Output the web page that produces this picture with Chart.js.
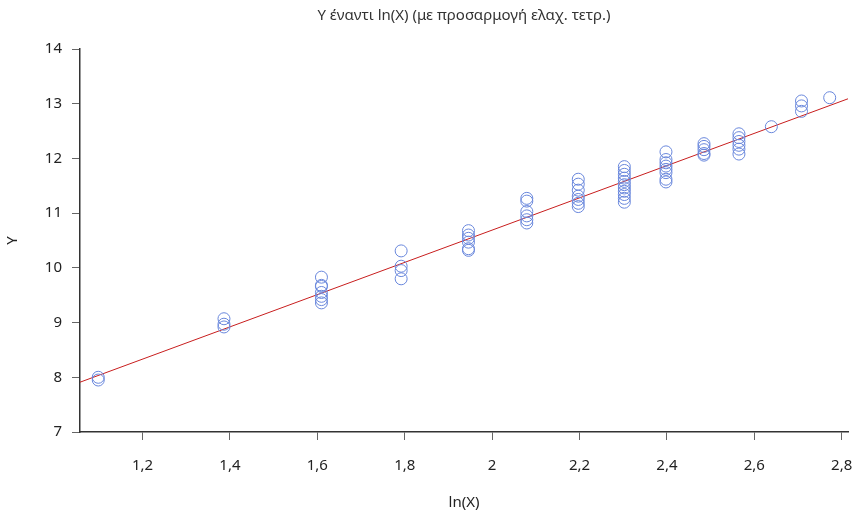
<!DOCTYPE html>
<html>
<head>
<meta charset="utf-8">
<script src="https://cdn.jsdelivr.net/npm/chart.js@4"></script>
<style>
  html, body { margin: 0; padding: 0; background: #fff; }
  #wrap { width: 858px; height: 514px; }
</style>
</head>
<body>
<div id="wrap"><canvas id="scatterChart" width="858" height="514"></canvas></div>
<script>
// ln(X) for each group of observations
const lnX = [1.0986, 1.3863, 1.6094, 1.7918, 1.9459, 2.0794, 2.1972, 2.3026, 2.3979, 2.4849, 2.5649, 2.6391, 2.7081, 2.7726];

// Y values read for each ln(X) group
const yGroups = [
    [8.00, 7.95],
    [9.07, 8.97, 8.92],
    [9.83, 9.68, 9.66, 9.55, 9.48, 9.42, 9.36],
    [10.31, 10.03, 9.95, 9.80],
    [10.68, 10.60, 10.54, 10.47, 10.35, 10.32],
    [11.27, 11.22, 11.03, 10.95, 10.88, 10.82],
    [11.62, 11.53, 11.42, 11.31, 11.25, 11.18, 11.12],
    [11.85, 11.78, 11.71, 11.64, 11.58, 11.52, 11.46, 11.40, 11.34, 11.27, 11.20],
    [12.12, 11.98, 11.92, 11.86, 11.80, 11.74, 11.62, 11.57],
    [12.27, 12.22, 12.16, 12.09, 12.06],
    [12.45, 12.38, 12.31, 12.24, 12.17, 12.08],
    [12.58],
    [13.05, 12.96, 12.86],
    [13.11]
];

// least squares line, end points
const fitX = [1.0568, 2.8145];
const fitY = [7.91, 13.09];

const xTicks = [1.2, 1.4, 1.6, 1.8, 2, 2.2, 2.4, 2.6, 2.8];
const yTicks = [7, 8, 9, 10, 11, 12, 13, 14];

const titleText = 'Υ έναντι ln(X) (με προσαρμογή ελαχ. τετρ.)';

const points = [];
lnX.forEach((x, i) => {
    yGroups[i].forEach(y => points.push({ x: x, y: y }));
});

const fitPoints = fitX.map((x, i) => ({ x: x, y: fitY[i] }));

const fontFamily = "'Noto Sans', 'Open Sans', sans-serif";

// title centred over the plot area
const plotTitle = {
    id: 'plotTitle',
    afterDraw(chart) {
        const { ctx, chartArea } = chart;
        ctx.save();
        ctx.font = '15px ' + fontFamily;
        ctx.fillStyle = '#333';
        ctx.textAlign = 'center';
        ctx.textBaseline = 'middle';
        ctx.fillText(titleText, (chartArea.left + chartArea.right) / 2, 16);
        ctx.restore();
    }
};

function commaFmt(v) {
    return String(Math.round(v * 10) / 10).replace('.', ',');
}

const ctx = document.getElementById('scatterChart').getContext('2d');
const myChart = new Chart(ctx, {
    type: 'scatter',
    data: {
        datasets: [{
            label: 'Y',
            data: points,
            pointRadius: 6,
            pointHoverRadius: 6,
            pointBorderWidth: 1,
            pointBackgroundColor: 'rgba(0,0,0,0)',
            pointBorderColor: 'rgb(105,135,220)'
        }, {
            type: 'line',
            label: 'fit',
            data: fitPoints,
            borderColor: 'rgb(200,30,30)',
            borderWidth: 1,
            pointRadius: 0,
            fill: false
        }]
    },
    options: {
        responsive: false,
        animation: false,
        layout: { padding: { top: 49, right: 10, left: 0, bottom: 0 } },
        plugins: {
            legend: { display: false },
            title: { display: false },
            tooltip: { enabled: false }
        },
        scales: {
            x: {
                type: 'linear',
                min: fitX[0],
                max: fitX[1],
                afterBuildTicks: scale => { scale.ticks = xTicks.map(v => ({ value: v })); },
                afterFit: scale => {
                    scale.height = 82;
                    scale.paddingLeft = 0;
                    scale.paddingRight = 0;
                },
                grid: { drawOnChartArea: false, tickLength: 8, color: '#666' },
                border: { color: '#333', width: 1.5 },
                ticks: {
                    padding: 17,
                    color: '#222',
                    font: { family: fontFamily, size: 15 },
                    maxRotation: 0,
                    callback: v => commaFmt(v)
                },
                title: {
                    display: true,
                    text: 'ln(X)',
                    color: '#222',
                    font: { family: fontFamily, size: 15 },
                    padding: { top: 4, bottom: 2 }
                }
            },
            y: {
                min: 7,
                max: 14,
                afterBuildTicks: scale => { scale.ticks = yTicks.map(v => ({ value: v })); },
                afterFit: scale => { scale.width = 80; },
                grid: { drawOnChartArea: false, tickLength: 8, color: '#666' },
                border: { color: '#333', width: 1.5 },
                ticks: {
                    padding: 10,
                    color: '#222',
                    font: { family: fontFamily, size: 15 },
                    callback: v => commaFmt(v)
                },
                title: {
                    display: true,
                    text: 'Y',
                    color: '#222',
                    font: { family: fontFamily, size: 15 },
                    padding: { top: 4, bottom: 4 }
                }
            }
        }
    },
    plugins: [plotTitle]
});
</script>
</body>
</html>
